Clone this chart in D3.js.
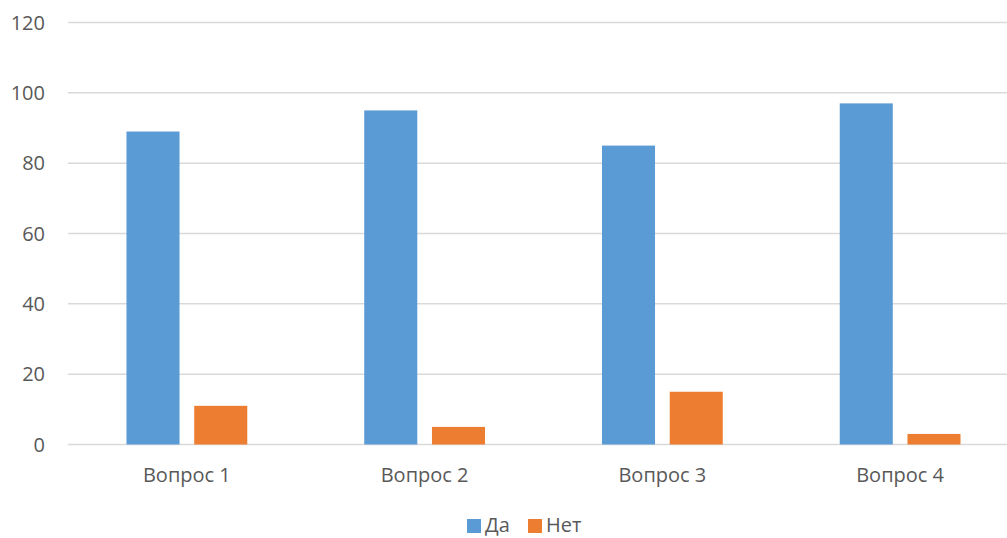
<!DOCTYPE html>
<html><head><meta charset="utf-8">
<script src="https://cdn.jsdelivr.net/npm/d3@7"></script>
<style>
html,body{margin:0;padding:0;background:#fff;overflow:hidden}
text{font-family:"Open Sans","Noto Sans",sans-serif;fill:#595959}
</style></head>
<body>
<svg id="c" width="1007" height="538"></svg>
<script>
const categories = ["Вопрос 1","Вопрос 2","Вопрос 3","Вопрос 4"];
const seriesNames = ["Да","Нет"];
const yesValues = [89,95,85,97];
const noValues = [11,5,15,3];
const yTicks = [0,20,40,60,80,100,120];
const colors = ["#5b9bd5","#ed7d31"];

(function(){
const svg = d3.select("#c");
const mLeft = 68, mRight = 1019, mTop = 22.5, mBottom = 444.5;
const x0 = d3.scaleBand().domain(categories).range([mLeft,mRight]).padding(0);
const outer = x0.bandwidth()*0.246;
const x1 = d3.scaleBand().domain(seriesNames).range([outer, x0.bandwidth()-outer]).paddingInner(0.217).paddingOuter(0);
const y = d3.scaleLinear().domain([0,120]).range([mBottom, mTop]);

svg.append("g").selectAll("line").data(yTicks).join("line")
  .attr("x1",mLeft).attr("x2",mRight)
  .attr("y1",d=>y(d)).attr("y2",d=>y(d))
  .attr("stroke","#d9d9d9").attr("stroke-width",1.5);

svg.append("g").selectAll("text").data(yTicks).join("text")
  .attr("x",45).attr("y",d=>y(d)).attr("dy","0.36em")
  .attr("text-anchor","end").attr("font-size","20px").text(d=>d);

const data = categories.map((c,i)=>({cat:c, vals:[{s:seriesNames[0],v:yesValues[i]},{s:seriesNames[1],v:noValues[i]}]}));
const g = svg.append("g").selectAll("g").data(data).join("g")
  .attr("transform",d=>`translate(${x0(d.cat)},0)`);
g.selectAll("rect").data(d=>d.vals).join("rect")
  .attr("x",d=>x1(d.s)).attr("width",x1.bandwidth())
  .attr("y",d=>y(d.v)).attr("height",d=>y(0)-y(d.v))
  .attr("fill",(d,i)=>colors[i]);

svg.append("g").selectAll("text").data(categories).join("text")
  .attr("x",d=>x0(d)+x0.bandwidth()/2).attr("y",482)
  .attr("text-anchor","middle").attr("font-size","20px").text(d=>d);

const leg = svg.append("g");
const legX = [467,528];
seriesNames.forEach((s,i)=>{
  leg.append("rect").attr("x",legX[i]).attr("y",519).attr("width",14).attr("height",14).attr("fill",colors[i]);
  leg.append("text").attr("x",legX[i]+18).attr("y",531.5).attr("font-size","20px").text(s);
});
})();
</script>
</body></html>
